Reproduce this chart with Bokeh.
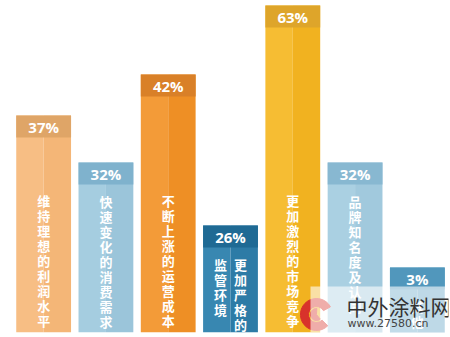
from bokeh.plotting import figure
from bokeh.models import ColumnDataSource, FactorRange, Range1d, Label, BoxAnnotation
from bokeh.transform import dodge
from bokeh.core.properties import value
from bokeh.embed import file_html
from bokeh.resources import INLINE
import math

# ---- data ----
categories = ["维持理想的利润水平", "快速变化的消费需求", "不断上涨的运营成本",
              "更加严格的监管环境", "更加激烈的市场竞争", "品牌知名度及认同", "其他"]
percent = [37, 32, 42, 26, 63, 32, 3]
# drawn bar length as it appears in the infographic (not proportional to percent)
bar_len = [217, 170, 258, 107, 327, 170, 65]

# ---- styles ----
left_col = ["#F7BE84", "#A5CDE0", "#F39B38", "#3887B1", "#F6BD33", "#AAD0E2", "#68A9C9"]
right_col = ["#F4B677", "#9BC5DA", "#EE8F25", "#2D7BA6", "#F1B220", "#A1C9DD", "#5CA0C3"]
band_col = ["#DFA567", "#7FB2CD", "#D98028", "#1F6A94", "#DEA52A", "#88B8D1", "#5197BC"]
BAND = 22
STEP = 15

labels_pct = [f"{v}%" for v in percent]
band_bottom = [b - BAND for b in bar_len]
band_mid = [b - BAND / 2 for b in bar_len]

src = ColumnDataSource(dict(cat=categories, top=bar_len, bb=band_bottom, bm=band_mid,
                            lc=left_col, rc=right_col, bc=band_col, lab=labels_pct))

p = figure(width=450, height=337, output_backend="svg", toolbar_location=None,
           x_range=FactorRange(factors=categories, range_padding=0),
           y_range=Range1d(0, 332), x_axis_location=None, y_axis_location=None,
           min_border_left=12, min_border_right=2, min_border_top=0, min_border_bottom=5)
p.grid.visible = False
p.outline_line_color = None
p.background_fill_color = "white"
p.border_fill_color = "white"

W = 0.88
p.vbar(x=dodge("cat", -W / 4, range=p.x_range), top="top", bottom=0, width=W / 2,
       fill_color="lc", line_color=None, source=src)
p.vbar(x=dodge("cat", W / 4, range=p.x_range), top="top", bottom=0, width=W / 2,
       fill_color="rc", line_color=None, source=src)
p.vbar(x="cat", top="top", bottom="bb", width=W, fill_color="bc", line_color=None, source=src)

p.text(x="cat", y="bm", text="lab", source=src, text_color="white",
       text_font=value("Open Sans"), text_font_style="bold", text_font_size="15px",
       text_align="center", text_baseline="middle")

# vertical category labels, one character each
cx, cy, ct, co = [], [], [], []
for cat, top in zip(categories, bar_len):
    start = min(132, top - BAND - 17)
    per_col = min(len(cat), int((start - 8) / STEP) + 1)
    ncol = math.ceil(len(cat) / per_col)
    for k, ch in enumerate(cat):
        j, r = divmod(k, per_col)
        cx.append(cat)
        cy.append(start - r * STEP)
        ct.append(ch)
        co.append(((ncol - 1) / 2 - j) * 20)
p.text(x="x", y="y", text="t", x_offset="o",
       source=ColumnDataSource(dict(x=cx, y=cy, t=ct, o=co)),
       text_color="white", text_font=value("Noto Sans CJK SC"), text_font_style="bold",
       text_font_size="13px", text_align="center", text_baseline="middle")

# ---- watermark ----
p.add_layout(BoxAnnotation(left=298, right=450, left_units="screen", right_units="screen",
                           bottom=0, top=46, fill_color="white", fill_alpha=0.6,
                           line_color=None))
wx = (316 - 12) / 62.3
p.annular_wedge(x=[wx], y=[18], inner_radius=8, outer_radius=16,
                inner_radius_units="screen", outer_radius_units="screen",
                start_angle=0.5, end_angle=5.5, color="#D8322B")
p.annular_wedge(x=[wx], y=[18], inner_radius=0, outer_radius=6,
                inner_radius_units="screen", outer_radius_units="screen",
                start_angle=1.5, end_angle=5.4, color="#D8322B")
p.add_layout(Label(x=334, x_units="screen", y=27, text="中外涂料网", text_color="#333333",
                   text_font="Noto Sans CJK SC", text_font_size="21px",
                   text_baseline="middle"))
p.add_layout(Label(x=335, x_units="screen", y=9, text="www.27580.cn", text_color="#444444",
                   text_font="DejaVu Sans", text_font_size="11px", text_baseline="middle"))

open("out.html", "w").write(file_html(p, INLINE))
